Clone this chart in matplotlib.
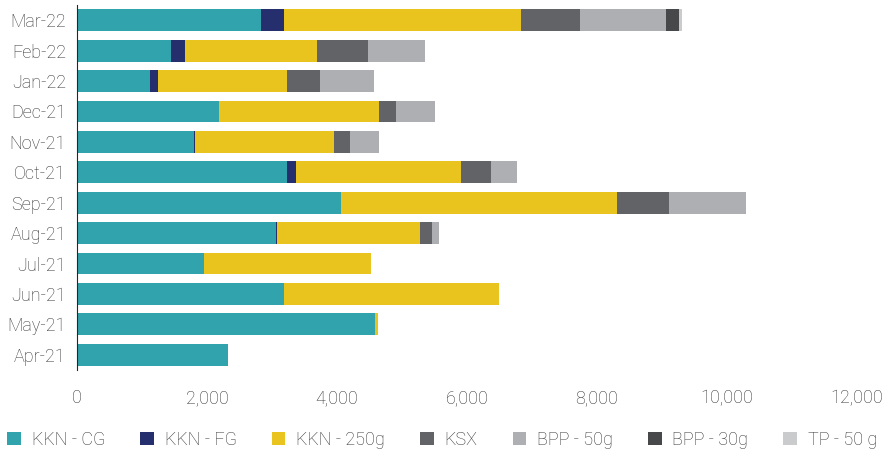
import numpy as np
import matplotlib.pyplot as plt

plt.rcParams['font.family'] = ['Roboto', 'DejaVu Sans']
plt.rcParams['font.weight'] = 'light'

months = ['Apr-21', 'May-21', 'Jun-21', 'Jul-21', 'Aug-21', 'Sep-21',
          'Oct-21', 'Nov-21', 'Dec-21', 'Jan-22', 'Feb-22', 'Mar-22']

kkn_cg = [2323, 4585, 3185, 1954, 3062, 4062, 3231, 1800, 2185, 1123, 1446, 2831]
kkn_fg = [0, 0, 0, 0, 15, 0, 138, 20, 0, 123, 215, 354]
kkn_250 = [0, 46, 3308, 2569, 2200, 4246, 2538, 2138, 2462, 1985, 2031, 3646]
ksx = [0, 0, 0, 0, 185, 800, 462, 246, 262, 508, 785, 908]
bpp_50 = [0, 0, 0, 0, 108, 1185, 400, 446, 600, 831, 877, 1323]
bpp_30 = [0, 0, 0, 0, 0, 0, 0, 0, 0, 0, 0, 200]
tp_50 = [0, 0, 0, 0, 0, 0, 0, 0, 0, 0, 0, 46]

series = [('KKN - CG', kkn_cg, '#30A3AC'),
          ('KKN - FG', kkn_fg, '#252F6E'),
          ('KKN - 250g', kkn_250, '#E9C41F'),
          ('KSX', ksx, '#626366'),
          ('BPP - 50g', bpp_50, '#AEAFB2'),
          ('BPP - 30g', bpp_30, '#47484A'),
          ('TP - 50 g', tp_50, '#CACBCD')]

fig = plt.figure(figsize=(8.88, 4.5), dpi=100)
ax = fig.add_axes([77 / 888, 80 / 450, 780 / 888, 365 / 450])

y = np.arange(len(months))
left = np.zeros(len(months))
for name, vals, col in series:
    vals = np.array(vals, dtype=float)
    ax.barh(y, vals, left=left, height=0.72, color=col, label=name)
    left += vals

ax.set_xlim(0, 12000)
ax.set_ylim(-0.5, len(months) - 0.5)
ax.set_yticks(y)
ax.set_yticklabels(months)
ax.set_xticks(np.arange(0, 12001, 2000))
ax.xaxis.set_major_formatter(plt.FuncFormatter(lambda v, p: f'{int(v):,}'))
ax.tick_params(axis='both', length=0, labelsize=13, colors='#333333')
ax.tick_params(axis='x', pad=14)
ax.tick_params(axis='y', pad=8)
for s in ['top', 'right', 'bottom']:
    ax.spines[s].set_visible(False)
ax.spines['left'].set_color('#262626')
ax.spines['left'].set_linewidth(0.8)

ax.legend(loc='lower left', bbox_to_anchor=(-77 / 780, -0.235), ncol=7,
          frameon=False, fontsize=13, handlelength=0.75, handleheight=0.75,
          handletextpad=0.6, columnspacing=1.95, borderaxespad=0,
          labelcolor='#333333')

fig.savefig('out.png', dpi=100)
